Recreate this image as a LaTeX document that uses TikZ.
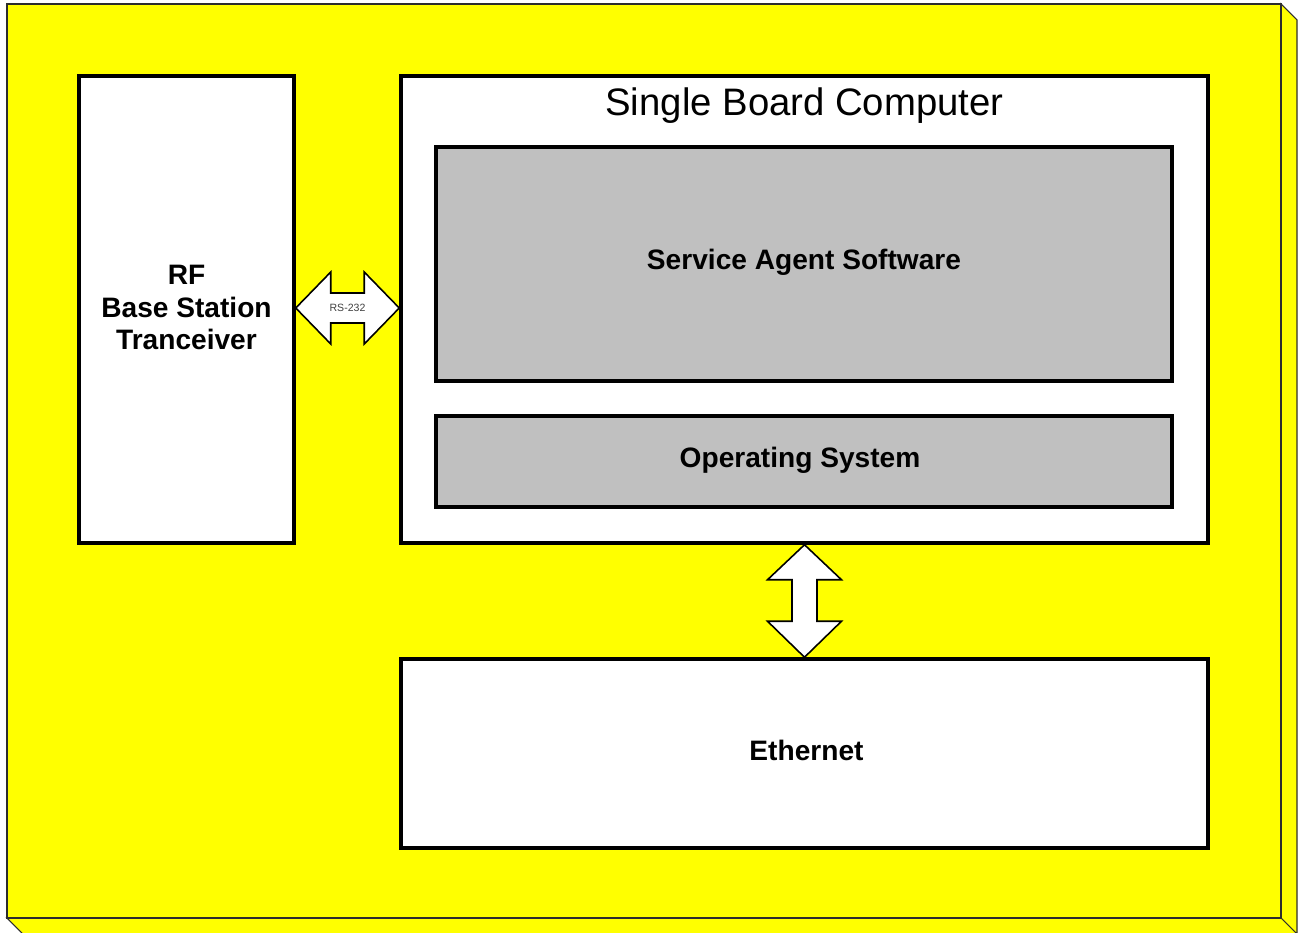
\documentclass[tikz,border=0pt]{standalone}
\usepackage{fontspec}
\setmainfont{Liberation Sans}
\usepackage{tikz}
\usetikzlibrary{positioning,calc,fit}
\definecolor{boardyellow}{RGB}{255,255,0}
\definecolor{layergray}{RGB}{192,192,192}
\definecolor{edgegray}{RGB}{45,45,45}

\begin{document}
\begin{tikzpicture}[x=0.02cm, y=-0.02cm,
    box/.style={draw, line width=2pt, fill=white, inner sep=0pt},
    layer/.style={box, fill=layergray},
    boxtext/.style={font=\fontsize{16}{18.7}\selectfont\bfseries, align=center},
    blockarrow/.style={draw, line width=0.9pt, fill=white, line join=miter}]
    \useasboundingbox (0,0) rectangle (1299,933);

    % Enclosure (3D slab)
    \draw[edgegray, line width=0.6pt, fill=boardyellow] (1281,4) -- (1297,20) -- (1297,934) -- (1281,918) -- cycle;
    \draw[edgegray, line width=0.6pt, fill=boardyellow] (7,918) -- (1281,918) -- (1297,934) -- (23,934) -- cycle;
    \draw[edgegray, line width=0.6pt, fill=boardyellow] (7,4) rectangle (1281,918);

    % RF transceiver
    \node[box, fit={(79,76) (294,543)}] (rf) {};
    \node[boxtext] (rftext) at ($(rf.center)+(0,-2)$) {RF\\Base Station\\Tranceiver};

    % Single board computer
    \node[box, fit={(401,76) (1208,543)}] (sbc) {};
    \node[font=\fontsize{21.8}{24}\selectfont, below=4pt of sbc.north] (sbctext) {Single Board Computer};
    \node[layer, fit={(436,147) (1172,381)}] (agent) {};
    \node[boxtext] (agenttext) at ($(agent.center)+(0,-2)$) {Service Agent Software};
    \node[layer, fit={(436,416) (1172,507)}] (os) {};
    \node[boxtext] (ostext) at ($(os.center)+(-4,-1)$) {Operating System};

    % Ethernet
    \node[box, fit={(401,659) (1208,848)}] (eth) {};
    \node[boxtext] (ethtext) at ($(eth.center)+(2,-3)$) {Ethernet};

    % RS-232 link
    \coordinate (rsl) at ($(rf.east)+(0,-1.5)$);
    \coordinate (rsr) at (rsl -| sbc.west);
    \draw[blockarrow] (rsl) -- ++(35,-36) -- ++(0,21) -- ($(rsr)+(-35,-15)$) -- ++(0,-21) -- (rsr)
        -- ++(-35,36) -- ++(0,-21) -- ($(rsl)+(35,15)$) -- ++(0,21) -- cycle;
    \node[font=\fontsize{6}{7}\selectfont, text=black!75] (rstext) at ($(rsl)!0.5!(rsr)$) {RS-232};

    % SBC to Ethernet link
    \draw[blockarrow] (sbc.south) -- ++(37,35) -- ++(-24.5,0) -- ($(eth.north)+(12.5,-36)$) -- ++(24.5,0) -- (eth.north)
        -- ++(-37,-36) -- ++(24.5,0) -- ($(sbc.south)+(-12.5,35)$) -- ++(-24.5,0) -- cycle;
\end{tikzpicture}
\end{document}
